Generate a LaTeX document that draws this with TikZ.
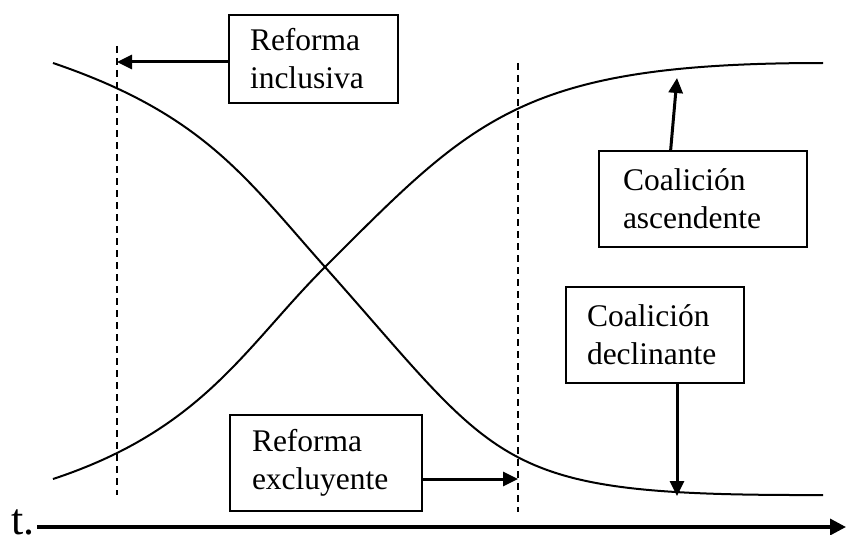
\documentclass[tikz,border=0pt]{standalone}
\usepackage{fontspec}
\setmainfont{Liberation Serif}
\usetikzlibrary{arrows.meta,calc}
\begin{document}
\begin{tikzpicture}[x=1pt,y=-1pt,
  curve/.style={line width=2pt},
  guide/.style={line width=1.6pt,dash pattern=on 7pt off 5pt},
  label box/.style={draw,line width=2pt,align=left,anchor=center,
    inner xsep=0pt,inner ysep=0pt,font=\fontsize{31.5}{38}\selectfont},
  pointer/.style={line width=3pt,-{Triangle[length=15pt,width=14pt]}},
  axisline/.style={line width=3.4pt,-{Triangle[length=16pt,width=16pt]}}]
\useasboundingbox (0,0) rectangle (846,535);
% curves
\coordinate (cross) at (325,267);
\coordinate (dStart) at (53,63);
\coordinate (dEnd) at (823,495);
\coordinate (rStart) at (53,479);
\coordinate (rEnd) at (823,63);
\draw[curve] (dStart) .. controls (203,114) and (245,177) .. (cross)
  .. controls (505,469) and (493,496) .. (dEnd);
\draw[curve] (rStart) .. controls (203,429.5) and (245,347) .. (cross)
  .. controls (475,117) and (523,63) .. (rEnd);
% guides
\coordinate (g1top) at (117,46);
\coordinate (g1bot) at (117,495);
\coordinate (g2top) at (518,63);
\coordinate (g2bot) at (518,512);
\draw[guide] (g1top) -- (g1bot);
\draw[guide] (g2top) -- (g2bot);
% boxes
\node[label box,minimum width=169pt,minimum height=88pt,text width=127pt] (inc) at (313.5,59) {Reforma\\inclusiva};
\node[label box,minimum width=192pt,minimum height=96pt,text width=148pt] (exc) at (326,463) {Reforma\\excluyente};
\node[label box,minimum width=208pt,minimum height=96pt,text width=160pt] (asc) at (703,199) {Coalición\\ascendente};
\node[label box,minimum width=178pt,minimum height=96pt,text width=136pt] (dec) at (655,335) {Coalición\\declinante};
% pointers
\coordinate (incTip) at (117,62);
\coordinate (excTip) at (518,479);
\coordinate (ascTip) at (677,78);
\coordinate (decTip) at (677,496);
\draw[pointer] (inc.west |- incTip) -- (incTip);
\draw[pointer] (exc.east |- excTip) -- (excTip);
\draw[pointer] ($(asc.north west)!0.346!(asc.north east)$) -- (ascTip);
\draw[pointer] (dec.south -| decTip) -- (decTip);
% time axis
\node[anchor=base west,inner sep=0pt,font=\fontsize{44}{44}\selectfont] (t) at (11,534) {t.};
\coordinate (axEnd) at (846,527);
\coordinate (axStart) at (37,527);
\draw[axisline] (axStart) -- (axEnd);
\end{tikzpicture}
\end{document}
